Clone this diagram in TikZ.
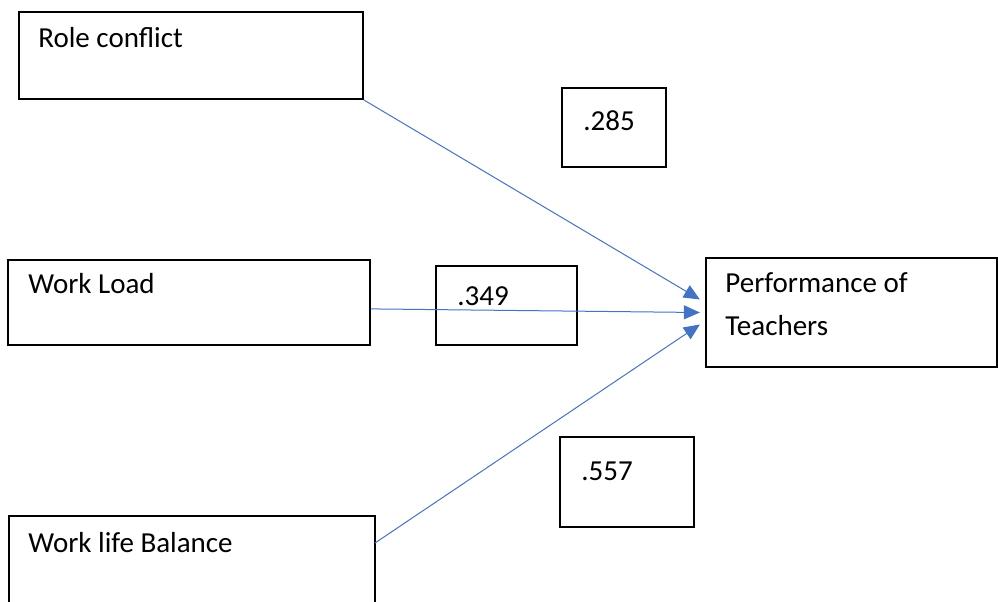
\documentclass[tikz,border=0pt]{standalone}
\usepackage{fontspec}
\setmainfont{Carlito}
\usetikzlibrary{arrows.meta,fit}
\definecolor{arrowblue}{HTML}{4472C4}
\tikzset{
  box/.style={draw=black, line width=1.1pt, inner sep=0pt, fill=none},
  lbl/.style={anchor=base west, inner sep=0pt, font=\fontsize{14.5}{17}\selectfont},
  conn/.style={draw=arrowblue, line width=0.5pt, -{Triangle[length=8pt,width=7pt]}},
}
\begin{document}
\begin{tikzpicture}[x=0.5pt,y=-0.5pt]
\useasboundingbox (0,0) rectangle (998,601);
% corners
\coordinate (rcA) at (19,12);   \coordinate (rcB) at (363,99);
\coordinate (aA) at (562,88);   \coordinate (aB) at (666,167);
\coordinate (wlA) at (8,260);   \coordinate (wlB) at (370,345);
\coordinate (bA) at (436,266);  \coordinate (bB) at (577,345);
\coordinate (pA) at (706,258);  \coordinate (pB) at (997,367);
\coordinate (cA) at (560,437);  \coordinate (cB) at (694,527);
\coordinate (wbA) at (9,516);   \coordinate (wbB) at (375,620);
% boxes
\node[box, fit=(rcA)(rcB)] (rc) {};
\node[box, fit=(aA)(aB)] (ca) {};
\node[box, fit=(wlA)(wlB)] (wl) {};
\node[box, fit=(bA)(bB)] (cb) {};
\node[box, fit=(pA)(pB)] (perf) {};
\node[box, fit=(cA)(cB)] (cc) {};
\node[box, fit=(wbA)(wbB)] (wb) {};
% labels
\node[lbl] (trc) at (38,47) {Role conflict};
\node[lbl] (ta) at (583,130) {.285};
\node[lbl] (twl) at (28,293) {Work Load};
\node[lbl] (tb) at (457,305) {.349};
\node[lbl] (tp1) at (725,292) {Performance of};
\node[lbl] (tp2) at (725,335) {Teachers};
\node[lbl] (tc) at (581,480) {.557};
\node[lbl] (twb) at (28,552) {Work life Balance};
% connectors
\coordinate (e1) at ([xshift=-2.5pt,yshift=6.5pt]perf.west);
\coordinate (e2) at ([xshift=-2.5pt]perf.west);
\coordinate (e3) at ([xshift=-2.5pt,yshift=-6pt]perf.west);
\coordinate (s2) at ([yshift=-3.2pt]wl.east);
\coordinate (s3) at (375,543);
\draw[conn] (rc.south east) -- (e1);
\draw[conn] (s2) -- (e2);
\draw[conn] (s3) -- (e3);
\end{tikzpicture}
\end{document}
